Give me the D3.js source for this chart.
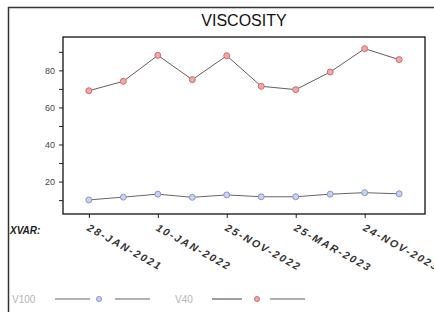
<!DOCTYPE html>
<html>
<head>
<meta charset="utf-8">
<script src="https://cdn.jsdelivr.net/npm/d3@7"></script>
<style>
  body { margin:0; background:#fff; }
  svg { display:block; font-family:"Liberation Sans", Arial, sans-serif; }
</style>
</head>
<body>
<div id="chart"></div>
<script>
// samples along the x axis (only every second one carries a date label)
var samples = [1, 2, 3, 4, 5, 6, 7, 8, 9, 10];
var tickSamples = [1, 3, 5, 7, 9];
var tickLabels = ["28-JAN-2021", "10-JAN-2022", "25-NOV-2022", "25-MAR-2023", "24-NOV-2023"];
var v100 = [10.1, 11.6, 13.2, 11.5, 12.8, 11.8, 11.8, 13.2, 14.0, 13.4];
var v40 = [69.0, 74.1, 88.1, 75.0, 87.9, 71.4, 69.6, 79.1, 91.7, 85.8];
var yTicks = [10, 20, 30, 40, 50, 60, 70, 80, 90];
var yLabels = [20, 40, 60, 80];

var W = 434, H = 312;
var plot = { left:63, right:425, top:37, bottom:214 };

var svg = d3.select("#chart").append("svg")
    .attr("width", W)
    .attr("height", H);

// outer frame
svg.append("path")
    .attr("d", "M8.5," + (H + 2) + "V7.5H" + (W + 2))
    .attr("fill", "none")
    .attr("stroke", "#333")
    .attr("stroke-width", 1.5);

svg.append("text")
    .attr("x", 244)
    .attr("y", 26)
    .attr("text-anchor", "middle")
    .attr("font-size", "16px")
    .attr("fill", "#111")
    .text("VISCOSITY");

var x = d3.scalePoint()
    .domain(samples)
    .range([plot.left, plot.right])
    .padding(0.75);

var y = d3.scaleLinear()
    .domain([2.5, 98])
    .range([plot.bottom, plot.top]);

// y axis with labels only on every second tick
var yAxis = d3.axisLeft(y)
    .tickValues(yTicks)
    .tickSize(4)
    .tickPadding(4)
    .tickFormat(function(d){
        return yLabels.indexOf(d) >= 0 ? d : "";
    });
var gy = svg.append("g")
    .attr("transform", "translate(" + plot.left + ",0)")
    .call(yAxis);
gy.select(".domain").remove();
gy.selectAll("line").attr("stroke", "#222");
gy.selectAll("text")
    .attr("font-size", "9px")
    .attr("fill", "#444");

var xAxis = d3.axisBottom(x)
    .tickValues(tickSamples)
    .tickSize(4)
    .tickFormat(function(d){ return tickLabels[tickSamples.indexOf(d)]; });
var gx = svg.append("g")
    .attr("transform", "translate(0," + plot.bottom + ")")
    .call(xAxis);
gx.select(".domain").remove();
gx.selectAll("line").attr("stroke", "#222");
gx.selectAll("text")
    .attr("y", 0)
    .attr("x", 0)
    .attr("dy", 0)
    .attr("text-anchor", "start")
    .attr("font-size", "10.5px")
    .attr("font-weight", "bold")
    .attr("font-style", "italic")
    .attr("letter-spacing", "1.9px")
    .attr("fill", "#333")
    .attr("transform", "translate(-3,16) rotate(29)");

// plot frame
svg.append("rect")
    .attr("x", plot.left)
    .attr("y", plot.top)
    .attr("width", plot.right - plot.left)
    .attr("height", plot.bottom - plot.top)
    .attr("fill", "none")
    .attr("stroke", "#111")
    .attr("stroke-width", 1.3);

svg.append("text")
    .attr("x", 10)
    .attr("y", 234)
    .attr("font-size", "10px")
    .attr("font-style", "italic")
    .attr("font-weight", "bold")
    .attr("fill", "#222")
    .text("XVAR:");

var series = [
    { name:"V100", values:v100, fill:"#c9d1f0", stroke:"#8797cf", line:"#666" },
    { name:"V40", values:v40, fill:"#f0a8a8", stroke:"#d26a6a", line:"#6a5a5a" }
];

var line = d3.line()
    .x(function(d, i){ return x(samples[i]); })
    .y(function(d){ return y(d); });

series.forEach(function(s){
    svg.append("path")
        .attr("d", line(s.values))
        .attr("fill", "none")
        .attr("stroke", s.line)
        .attr("stroke-width", 1);
    svg.selectAll(null)
        .data(s.values)
        .enter()
        .append("circle")
        .attr("cx", function(d, i){ return x(samples[i]); })
        .attr("cy", function(d){ return y(d); })
        .attr("r", 3)
        .attr("fill", s.fill)
        .attr("stroke", s.stroke)
        .attr("stroke-width", 1);
});

// legend
var legX = [12, 175];
series.forEach(function(s, i){
    var lg = svg.append("g").attr("transform", "translate(" + legX[i] + ",299)");
    lg.append("text")
        .attr("x", 0)
        .attr("y", 3.5)
        .attr("font-size", "10px")
        .attr("fill", "#b5b5b5")
        .text(s.name);
    lg.append("line")
        .attr("x1", i == 0 ? 43 : 37).attr("x2", i == 0 ? 78 : 67)
        .attr("stroke", s.line).attr("stroke-width", 1.2);
    lg.append("circle")
        .attr("cx", i == 0 ? 87 : 82).attr("r", 2.5)
        .attr("fill", s.fill).attr("stroke", s.stroke);
    lg.append("line")
        .attr("x1", i == 0 ? 103 : 95).attr("x2", i == 0 ? 138 : 130)
        .attr("stroke", s.line).attr("stroke-width", 1.2);
});
</script>
</body>
</html>
